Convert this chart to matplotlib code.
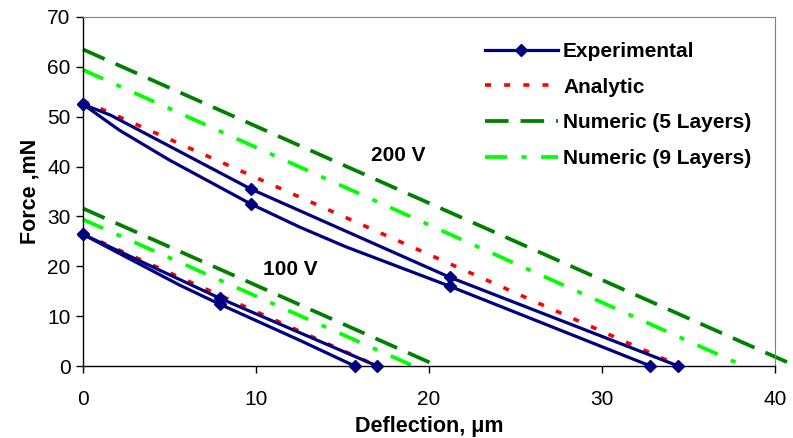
import matplotlib
matplotlib.use("Agg")
import matplotlib.pyplot as plt
from matplotlib.lines import Line2D

plt.rcParams['font.family'] = ['Liberation Sans', 'DejaVu Sans']
plt.rcParams['lines.scale_dashes'] = False

# experimental curves (loading / unloading), markers on the measured points
exp200_up_x = [0, 1.6, 9.7, 21.2, 34.4]
exp200_up_y = [52.5, 50.3, 35.5, 17.8, 0]
exp200_up_mk = [0, 2, 3, 4]
exp200_lo_x = [0, 2.1, 5.0, 9.7, 12.5, 15.2, 21.2, 32.8]
exp200_lo_y = [52.5, 47.3, 41.3, 32.5, 27.9, 23.9, 16.0, 0]
exp200_lo_mk = [0, 3, 6, 7]
exp100_up_x = [0, 7.9, 17.0]
exp100_up_y = [26.4, 13.6, 0]
exp100_up_mk = [0, 1, 2]
exp100_lo_x = [0, 5.6, 7.9, 12.5, 15.7]
exp100_lo_y = [26.4, 16.2, 12.4, 5.2, 0]
exp100_lo_mk = [0, 2, 4]

# analytic and numeric straight lines (start, end)
analytic200_x = [0, 34.5]
analytic200_y = [53.2, 0]
analytic100_x = [0, 17.0]
analytic100_y = [26.5, 0]
num5_200_x = [0, 41.2]
num5_200_y = [63.5, 0]
num5_100_x = [0, 20.5]
num5_100_y = [31.6, 0]
num9_200_x = [0, 38.2]
num9_200_y = [59.4, 0]
num9_100_x = [0, 19.1]
num9_100_y = [29.4, 0]

navy = '#000080'
red = '#ff0000'
dgreen = '#008000'
lime = '#00ff00'

fig = plt.figure(figsize=(7.93, 4.38), dpi=100)
ax = fig.add_axes([83 / 793, 1 - 366 / 438, (775 - 83) / 793, (366 - 17) / 438])

red_ls = (0, (4.3, 9.5))
dg_ls = (0, (17, 8.6))
lime_ls = (0, (15.8, 10.5, 3.6, 10.5))

for xs, ys in [(num5_200_x, num5_200_y), (num5_100_x, num5_100_y)]:
    ax.plot(xs, ys, color=dgreen, lw=2.7, linestyle=dg_ls, clip_on=False)
for xs, ys in [(num9_200_x, num9_200_y), (num9_100_x, num9_100_y)]:
    ax.plot(xs, ys, color=lime, lw=2.7, linestyle=lime_ls, clip_on=False)
for xs, ys in [(analytic200_x, analytic200_y), (analytic100_x, analytic100_y)]:
    ax.plot(xs, ys, color=red, lw=2.6, linestyle=red_ls, clip_on=False)

for xs, ys, mk in [(exp200_up_x, exp200_up_y, exp200_up_mk),
                   (exp200_lo_x, exp200_lo_y, exp200_lo_mk),
                   (exp100_up_x, exp100_up_y, exp100_up_mk),
                   (exp100_lo_x, exp100_lo_y, exp100_lo_mk)]:
    ax.plot(xs, ys, color=navy, lw=2.3, marker='D', ms=6.5, markevery=mk,
            clip_on=False, zorder=5)

ax.set_xlim(0, 40)
ax.set_ylim(0, 70)
ax.set_xticks([0, 10, 20, 30, 40])
ax.set_yticks(range(0, 71, 10))
ax.tick_params(direction='out', length=5, width=1, labelsize=15)
ax.tick_params(axis='x', pad=12)
ax.tick_params(axis='y', pad=4)
for s in ['top', 'right']:
    ax.spines[s].set_color('#808080')
for s in ['left', 'bottom']:
    ax.spines[s].set_color('black')
    ax.spines[s].set_linewidth(1)

ax.set_xlabel('Deflection, μm', fontsize=15.5, fontweight='bold', labelpad=5)
ax.set_ylabel('Force ,mN', fontsize=15.5, fontweight='bold', labelpad=5)

ax.text(18.2, 42.3, '200 V', fontsize=15, fontweight='bold', ha='center', va='center')
ax.text(12.0, 19.3, '100 V', fontsize=15, fontweight='bold', ha='center', va='center')

handles = [
    Line2D([], [], color=navy, lw=2.3, marker='D', ms=6.5),
    Line2D([], [], color=red, lw=2.6, linestyle=red_ls),
    Line2D([], [], color=dgreen, lw=2.7, linestyle=dg_ls),
    Line2D([], [], color=lime, lw=2.7, linestyle=lime_ls),
]
labels = ['Experimental', 'Analytic', 'Numeric (5 Layers)', 'Numeric (9 Layers)']
leg = fig.legend(handles, labels, loc='upper left', bbox_to_anchor=(485 / 793, 1 - 42 / 438),
                 frameon=False, borderpad=0, borderaxespad=0, handlelength=3.5,
                 handletextpad=0.25, labelspacing=0.8, numpoints=1,
                 prop={'size': 15, 'weight': 'bold'})

fig.savefig('out.png', dpi=100)
